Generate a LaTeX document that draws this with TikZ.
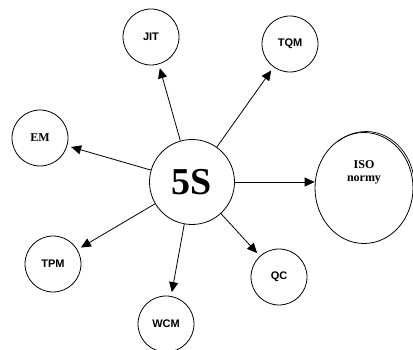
\documentclass[tikz,border=0pt]{standalone}
\usepackage{fontspec}
\setmainfont{Liberation Serif}
\setsansfont{Liberation Sans}
\usetikzlibrary{shapes.geometric,arrows.meta}
\begin{document}
\begin{tikzpicture}[x=1pt,y=-1pt,
  circ/.style={draw,circle,line width=0.8pt,minimum size=56pt,inner sep=0pt},
  sflab/.style={font=\sffamily\bfseries\fontsize{11}{13}\selectfont},
  serlab/.style={font=\rmfamily\bfseries\fontsize{12}{14}\selectfont},
  arr/.style={line width=0.8pt,-{Triangle[length=10pt,width=9pt]},shorten >=4pt}]
\useasboundingbox (0,0) rectangle (413,350);
\node[draw,circle,line width=0.8pt,minimum size=85pt,inner sep=0pt,
  font=\rmfamily\bfseries\fontsize{38}{42}\selectfont] (c) at (192,182) {5S};
\node[circ,sflab] (jit) at (151,37) {JIT};
\node[circ,sflab] (tqm) at (290,44) {TQM};
\node[circ,serlab] (em) at (40,138) {EM};
\node[circ,sflab] (tpm) at (53,264) {TPM};
\node[circ,sflab] (wcm) at (166,324) {WCM};
\node[circ,sflab] (qc) at (279,277) {QC};
\node[draw,ellipse,line width=0.8pt,minimum width=98pt,minimum height=111pt,inner sep=0pt] (iso) at (364,188) {};
\draw[line width=0.7pt] (366,186.5) ++(5:48.5pt and 55pt) arc[start angle=5,end angle=125,x radius=48.5pt,y radius=55pt];
\node[serlab,align=center] (isotext) at (364,172) {ISO\\[-1pt]normy};
\draw[arr] (c) -- (jit);
\draw[arr] (c) -- (tqm);
\draw[arr] (c) -- (em);
\draw[arr] (c) -- (tpm);
\draw[arr] (c) -- (wcm);
\draw[arr] (c) -- (qc);
\draw[arr,shorten >=0pt] (c.east) -- (c.east -| iso.west);
\end{tikzpicture}
\end{document}
